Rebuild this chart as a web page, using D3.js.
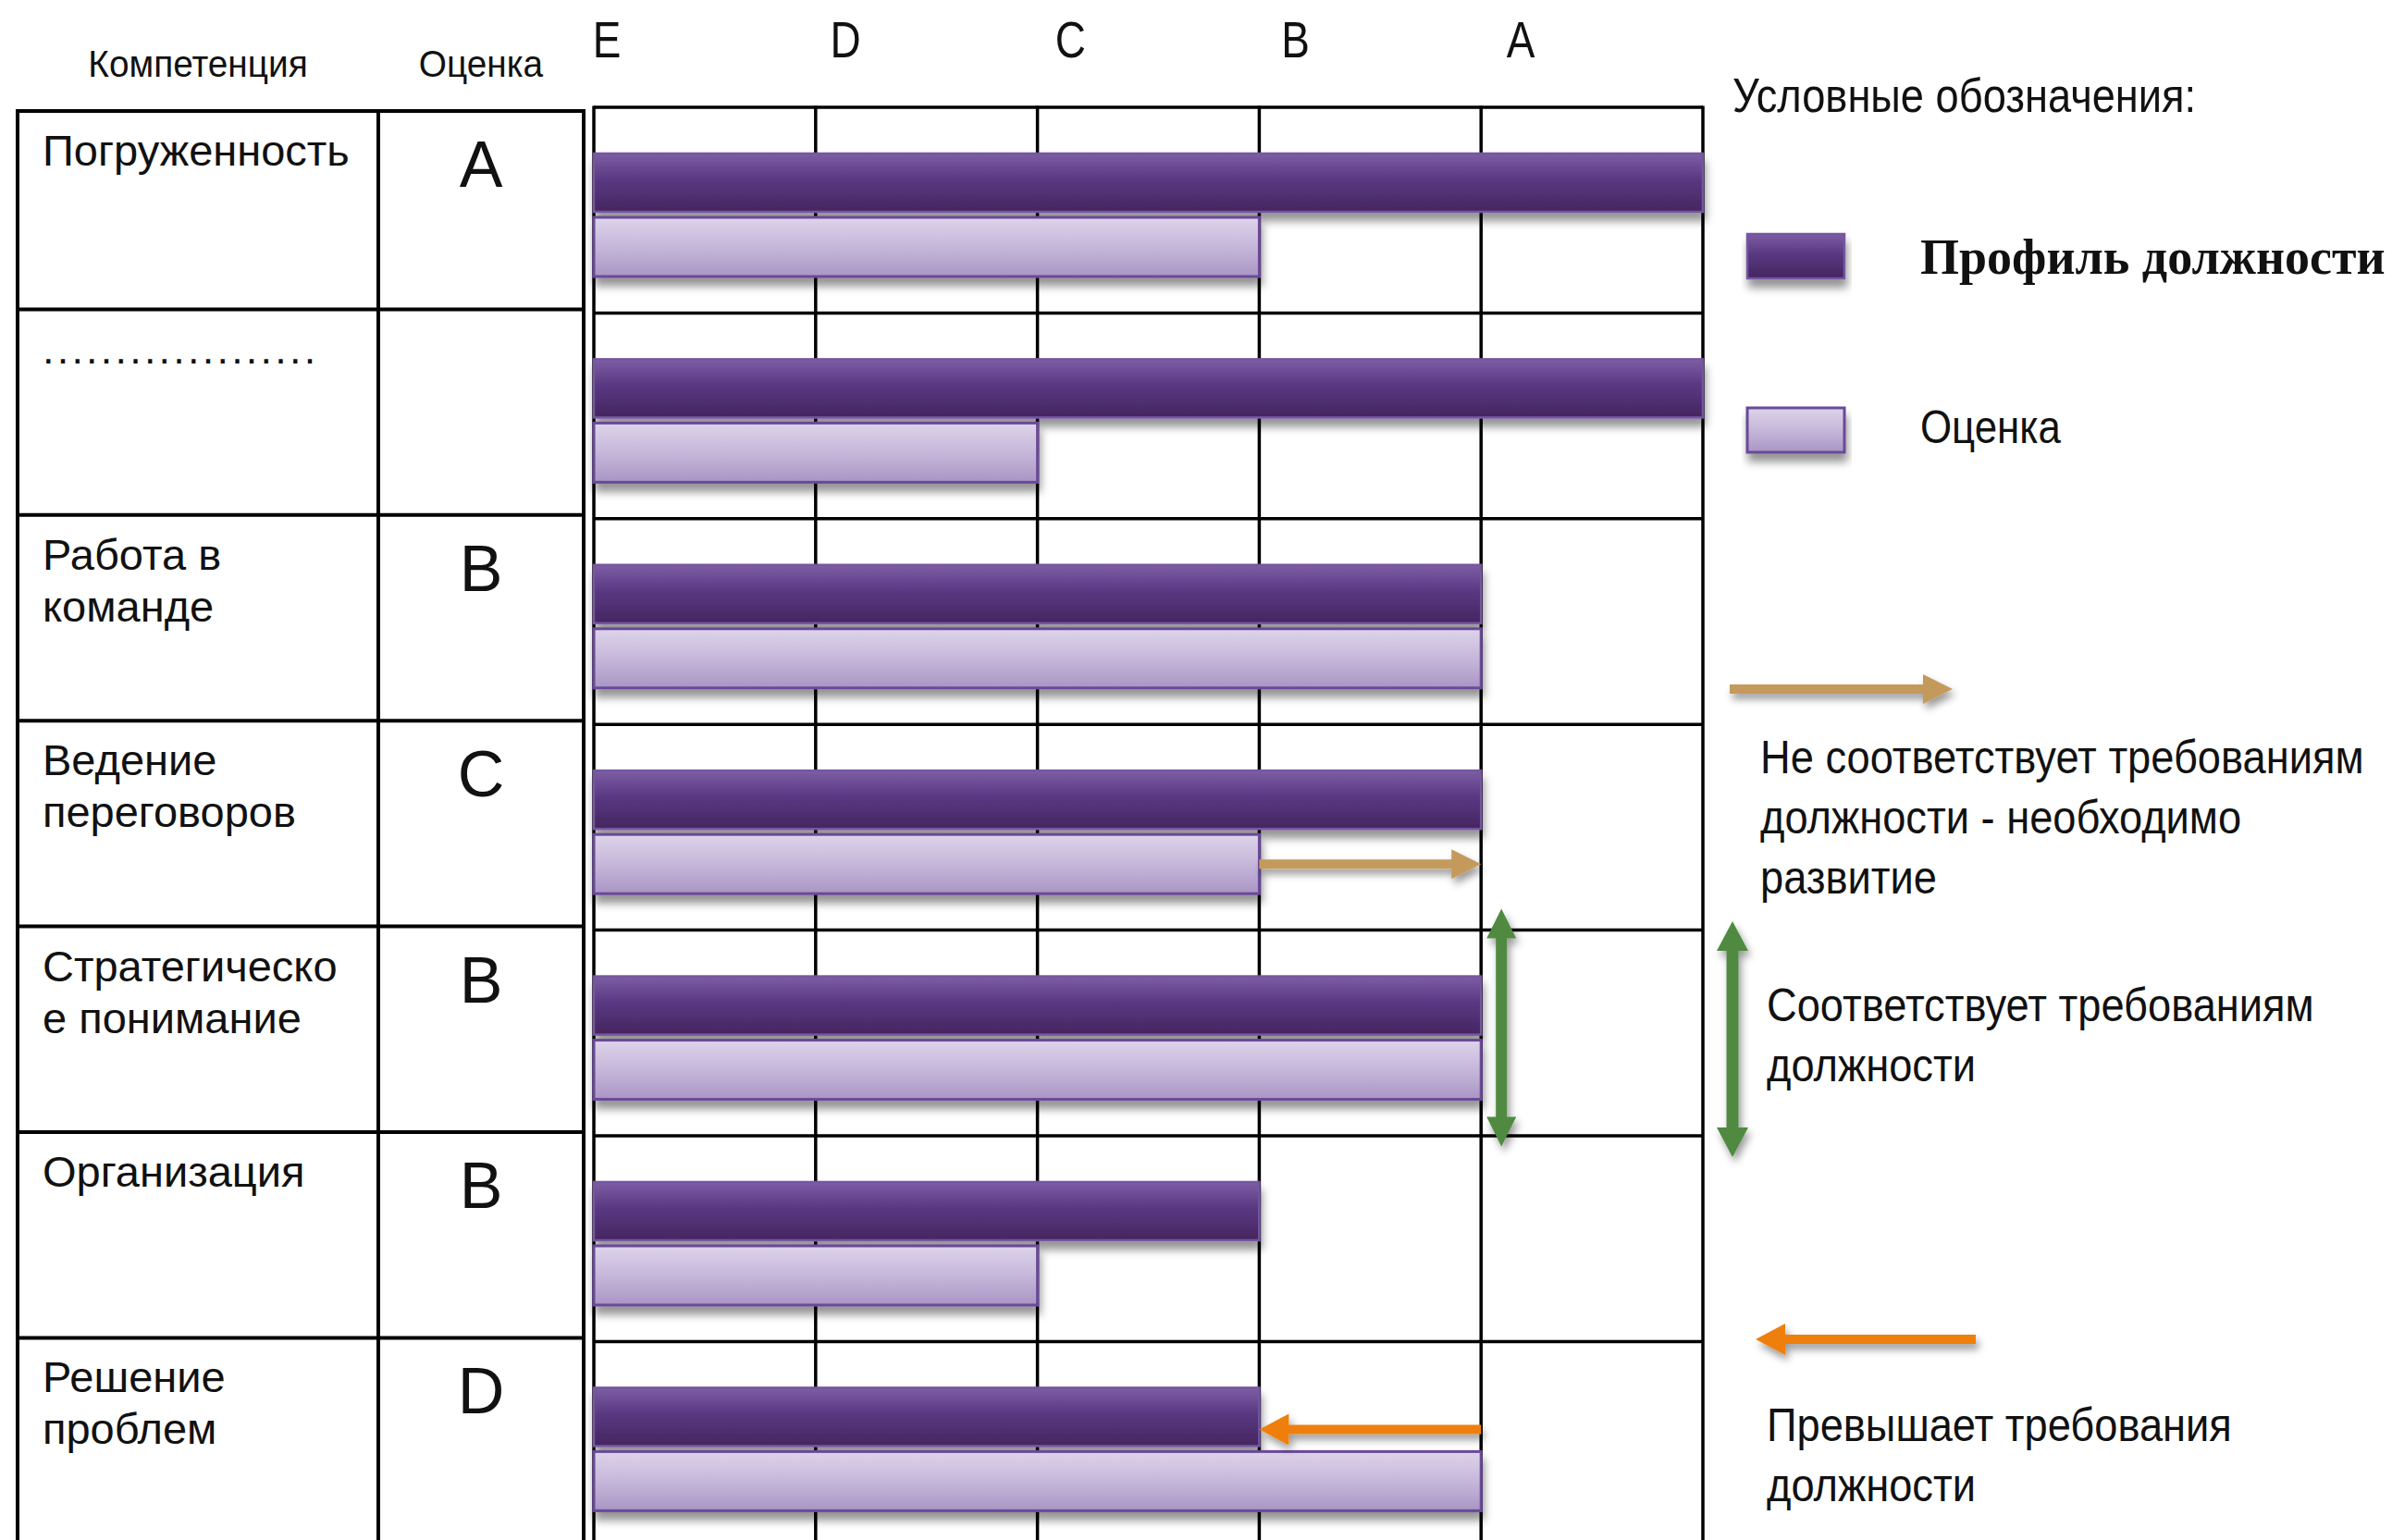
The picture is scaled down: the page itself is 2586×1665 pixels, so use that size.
<!DOCTYPE html>
<html lang="ru">
<head>
<meta charset="utf-8">
<title>Профиль компетенций</title>
<script src="https://cdn.jsdelivr.net/npm/d3@7"></script>
<style>
  html, body { margin: 0; padding: 0; background: #fff; }
  svg { display: block; }
  text { fill: #111; }
</style>
</head>
<body>
<div id="chart"></div>
<script>
// ---- data ----
const levels = ["E", "D", "C", "B", "A"];
const competencies = [
  "Погруженность",
  "...................",
  "Работа в\nкоманде",
  "Ведение\nпереговоров",
  "Стратегическо\nе понимание",
  "Организация",
  "Решение\nпроблем"
];
const grades = ["A", "", "B", "C", "B", "B", "D"];
// bar ends, counted in grid columns from the left edge (5 = full width)
const profileLevel = [5, 5, 4, 4, 4, 3, 3];
const scoreLevel   = [3, 2, 4, 3, 4, 2, 4];
// rows that carry a comparison arrow, and which kind
const arrowRows  = [3, 4, 6];
const arrowKinds = ["develop", "match", "exceeds"];

const legendTitle = "Условные обозначения:";
const seriesNames = ["Профиль должности", "Оценка"];
const arrowNotes = {
  develop: ["Не соответствует требованиям", "должности - необходимо", "развитие"],
  match:   ["Соответствует требованиям", "должности"],
  exceeds: ["Превышает требования", "должности"]
};
const arrowColors = { develop: "#c49a5b", match: "#4f8a40", exceeds: "#ef7f10" };

// ---- layout ----
const W = 2586, H = 1665;
const SANS = "'Liberation Sans', Arial, sans-serif";
const SERIF = "'Liberation Serif', 'Times New Roman', serif";
const x = d3.scaleLinear().domain([0, 5]).range([642, 1841]);
const y = d3.scaleBand().domain(d3.range(competencies.length)).range([116, 116 + 7 * 222.4]);
const step = y.step();
const gridBottom = y.range()[1];
const tickX = d3.scaleLinear().domain([0, 1, levels.length - 1]).range([656, 914, 1644]);
const tableCols = [19, 409, 631];

const svg = d3.select("#chart").append("svg")
  .attr("width", W).attr("height", H)
  .attr("viewBox", `0 0 ${W} ${H}`)
  .style("font-family", SANS);

const defs = svg.append("defs");
function gradient(id, stops) {
  const g = defs.append("linearGradient").attr("id", id)
    .attr("x1", 0).attr("y1", 0).attr("x2", 0).attr("y2", 1);
  stops.forEach(([o, c]) => g.append("stop").attr("offset", o).attr("stop-color", c));
}
gradient("gradProfile", [[0, "#7d5ea4"], [0.45, "#593882"], [1, "#45265f"]]);
gradient("gradScore", [[0, "#ddd4ea"], [0.5, "#c6b7da"], [1, "#a995c4"]]);

const barShadow = defs.append("filter").attr("id", "barShadow")
  .attr("x", "-5%").attr("y", "-40%").attr("width", "112%").attr("height", "200%");
barShadow.append("feDropShadow").attr("dx", 2).attr("dy", 9).attr("stdDeviation", 5)
  .attr("flood-color", "#000").attr("flood-opacity", 0.42);
const arrowShadow = defs.append("filter").attr("id", "arrowShadow")
  .attr("x", "-30%").attr("y", "-60%").attr("width", "160%").attr("height", "220%");
arrowShadow.append("feDropShadow").attr("dx", 3).attr("dy", 6).attr("stdDeviation", 4)
  .attr("flood-color", "#000").attr("flood-opacity", 0.4);

// condensed text helper: glyphs squeezed horizontally by factor sx
function narrowText(parent, tx, ty, str, size, sx, anchor) {
  const g = parent.append("g").attr("transform", `translate(${tx},${ty}) scale(${sx},1)`);
  return g.append("text").attr("x", 0).attr("y", 0)
    .attr("font-size", size).attr("text-anchor", anchor || "start").text(str);
}

// ---- table on the left ----
const table = svg.append("g");
const rowTop = i => (i === 0 ? 120 : y(i) - 4);
narrowText(table, (tableCols[0] + tableCols[1]) / 2, 83, "Компетенция", 40, 0.97, "middle");
narrowText(table, (tableCols[1] + tableCols[2]) / 2, 83, "Оценка", 40, 0.97, "middle");

const tableLines = table.append("g").attr("stroke", "#000").attr("stroke-width", 4);
competencies.forEach((_, i) => {
  tableLines.append("line").attr("x1", tableCols[0] - 2).attr("x2", tableCols[2] + 2)
    .attr("y1", rowTop(i)).attr("y2", rowTop(i));
});
tableCols.forEach(cx => {
  tableLines.append("line").attr("x1", cx).attr("x2", cx)
    .attr("y1", rowTop(0)).attr("y2", gridBottom - 4);
});

competencies.forEach((name, i) => {
  const t = table.append("text").attr("x", 46).attr("y", rowTop(i) + 59).attr("font-size", 47);
  if (name.startsWith(".")) t.attr("font-size", 45).attr("letter-spacing", 3.2);
  name.split("\n").forEach((ln, k) => {
    t.append("tspan").attr("x", 46).attr("dy", k === 0 ? 0 : 56).text(ln);
  });
  table.append("text").attr("x", (tableCols[1] + tableCols[2]) / 2).attr("y", rowTop(i) + 82)
    .attr("font-size", 70).attr("text-anchor", "middle").text(grades[i]);
});

// ---- level grid ----
const grid = svg.append("g").attr("stroke", "#000").attr("stroke-width", 3.5);
d3.range(0, 6).forEach(v => {
  grid.append("line").attr("x1", x(v)).attr("x2", x(v))
    .attr("y1", y.range()[0] - 1.5).attr("y2", gridBottom);
});
d3.range(0, competencies.length + 1).forEach(i => {
  const yy = i < competencies.length ? y(i) : gridBottom;
  grid.append("line").attr("x1", x(0)).attr("x2", x(5)).attr("y1", yy).attr("y2", yy);
});
levels.forEach((lv, i) => narrowText(svg, tickX(i), 62, lv, 56, 0.82, "middle"));

// ---- bars ----
const pairCenter = i => y(i) + step * 0.526;
const bars = svg.append("g");
competencies.forEach((_, i) => {
  const c = pairCenter(i);
  bars.append("rect")
    .attr("x", x(0)).attr("y", c - 67)
    .attr("width", x(profileLevel[i]) - x(0)).attr("height", 63)
    .attr("fill", "url(#gradProfile)").attr("stroke", "#7556a1").attr("stroke-width", 2.5)
    .attr("filter", "url(#barShadow)");
  bars.append("rect")
    .attr("x", x(0)).attr("y", c + 2)
    .attr("width", x(scoreLevel[i]) - x(0)).attr("height", 64)
    .attr("fill", "url(#gradScore)").attr("stroke", "#6a4898").attr("stroke-width", 3)
    .attr("filter", "url(#barShadow)");
});

// ---- arrows ----
function hArrow(x1, x2, yc, t, hl, hw) {
  const d = Math.sign(x2 - x1), xb = x2 - d * hl;
  return `M${x1},${yc - t / 2}L${xb},${yc - t / 2}L${xb},${yc - hw}L${x2},${yc}` +
         `L${xb},${yc + hw}L${xb},${yc + t / 2}L${x1},${yc + t / 2}Z`;
}
function vDouble(xc, y1, y2, t, hl, hw) {
  return `M${xc},${y1}L${xc + hw},${y1 + hl}L${xc + t / 2},${y1 + hl}L${xc + t / 2},${y2 - hl}` +
         `L${xc + hw},${y2 - hl}L${xc},${y2}L${xc - hw},${y2 - hl}L${xc - t / 2},${y2 - hl}` +
         `L${xc - t / 2},${y1 + hl}L${xc - hw},${y1 + hl}Z`;
}
const arrows = svg.append("g").attr("filter", "url(#arrowShadow)");
arrowRows.forEach((r, k) => {
  const kind = arrowKinds[k], c = pairCenter(r);
  let d;
  if (kind === "develop") {
    d = hArrow(x(scoreLevel[r]), x(profileLevel[r]), c + 34, 10, 32, 16);
  } else if (kind === "exceeds") {
    d = hArrow(x(scoreLevel[r]), x(profileLevel[r]), c - 22, 10, 32, 17);
  } else {
    d = vDouble(x(profileLevel[r]) + 22, c - 140, c + 117, 12, 32, 16);
  }
  arrows.append("path").attr("d", d).attr("fill", arrowColors[kind]);
});

// ---- legend ----
const legend = svg.append("g");
narrowText(legend, 1873, 121, legendTitle, 52, 0.87);
legend.append("rect").attr("x", 1889).attr("y", 253).attr("width", 105).attr("height", 48)
  .attr("fill", "url(#gradProfile)").attr("stroke", "#7556a1").attr("stroke-width", 2.5)
  .attr("filter", "url(#barShadow)");
legend.append("text").attr("x", 2076).attr("y", 296)
  .style("font-family", SERIF)
  .attr("font-weight", "bold").attr("font-size", 54).text(seriesNames[0]);
legend.append("rect").attr("x", 1889).attr("y", 441).attr("width", 105).attr("height", 48)
  .attr("fill", "url(#gradScore)").attr("stroke", "#6a4898").attr("stroke-width", 3)
  .attr("filter", "url(#barShadow)");
narrowText(legend, 2076, 479, seriesNames[1], 50, 0.877);

const legendArrows = legend.append("g").attr("filter", "url(#arrowShadow)");
legendArrows.append("path").attr("d", hArrow(1870, 2111, 745, 10, 32, 16)).attr("fill", arrowColors.develop);
legendArrows.append("path").attr("d", vDouble(1873, 996, 1251, 13, 32, 17)).attr("fill", arrowColors.match);
legendArrows.append("path").attr("d", hArrow(2136, 1898, 1448, 10, 32, 17)).attr("fill", arrowColors.exceeds);

function noteBlock(lines, tx, ty) {
  lines.forEach((ln, k) => narrowText(legend, tx, ty + k * 65, ln, 50, 0.905));
}
noteBlock(arrowNotes.develop, 1903, 836);
noteBlock(arrowNotes.match, 1910, 1104);
noteBlock(arrowNotes.exceeds, 1910, 1558);
</script>
</body>
</html>
